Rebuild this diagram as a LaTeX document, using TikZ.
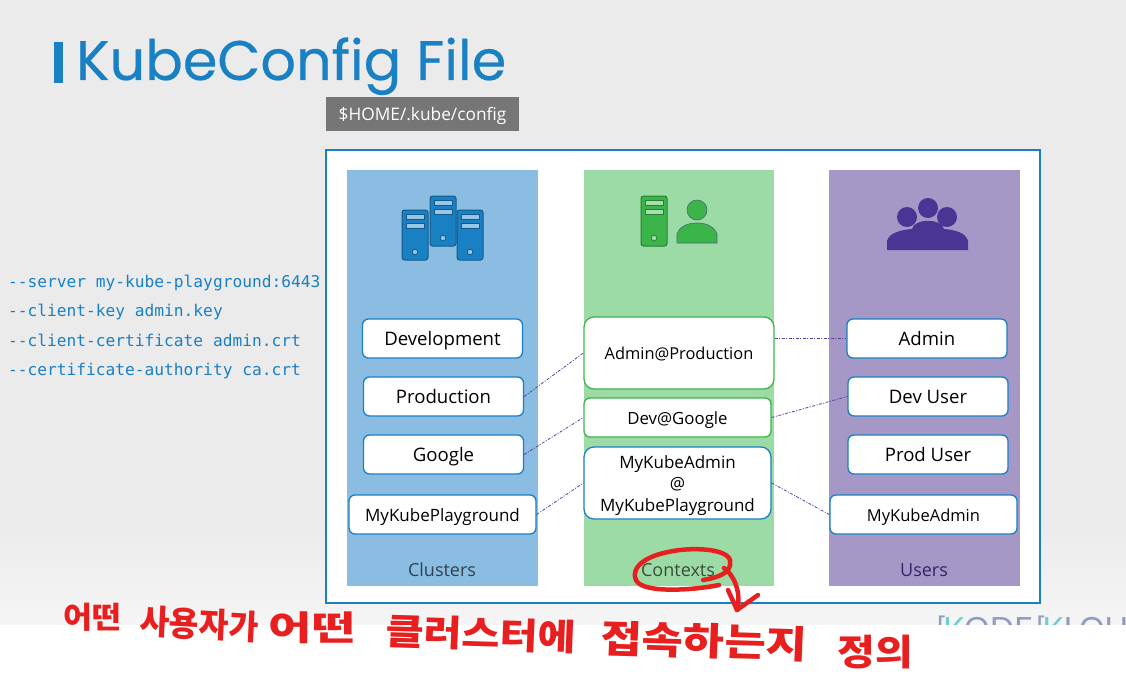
\documentclass[tikz,border=0pt]{standalone}
\usepackage{fontspec}
\setmainfont{Open Sans}
\newfontfamily\titlefont[FakeBold=0.4]{Poppins}
\newfontfamily\codefont{DejaVu Sans Mono}
\newfontfamily\logofont{Lato}
\newfontfamily\cjk{Noto Sans CJK KR}
\usepackage{xcolor}
\usetikzlibrary{arrows.meta, positioning, calc}
\definecolor{kubeblue}{HTML}{1A80C4}
\definecolor{bggray}{HTML}{EBEBEB}
\definecolor{bglight}{HTML}{F5F5F5}
\definecolor{clusterfill}{HTML}{8ABDE1}
\definecolor{contextfill}{HTML}{9DDBA6}
\definecolor{userfill}{HTML}{A597C6}
\definecolor{kubegreen}{HTML}{3BB54A}
\definecolor{kubepurple}{HTML}{4A3494}
\definecolor{pathgray}{HTML}{767676}
\definecolor{linkpurple}{HTML}{5A3FA8}
\definecolor{penred}{HTML}{E81F1F}
\definecolor{logoteal}{HTML}{6CCFD0}
\definecolor{logogray}{HTML}{8F9BC0}
\newcommand{\fsz}[1]{\fontsize{#1}{#1}\selectfont}
\tikzset{
    column/.style={minimum width=191pt, minimum height=416pt, inner sep=0pt},
    roundbox/.style={draw=kubeblue, fill=white, rounded corners=6pt, line width=1.3pt, minimum width=160pt, minimum height=39pt, inner sep=0pt, text=black},
    namebox/.style={roundbox, text height=17.5pt, text depth=4pt, font=\fsz{18.6}},
    widebox/.style={namebox, minimum width=187pt, font=\fsz{17}},
    ctxbox/.style={namebox, draw=kubegreen, minimum width=187pt, font=\fsz{16.4}},
    link/.style={linkpurple, line width=0.8pt, dash pattern=on 3pt off 1.5pt on 1pt off 1.5pt},
    codeline/.style={anchor=west, inner sep=0pt, text=kubeblue, text height=14pt, text depth=3pt, font=\codefont\fsz{16.2}},
    penword/.style={text=penred, inner sep=0pt, transform shape, font=\cjk\bfseries\fsz{#1}},
    penstroke/.style={penred, line width=4.5pt, line cap=round, line join=round},
    servericon/.pic={
        \draw[draw=#1!70!black, fill=#1, line width=1pt, rounded corners=2.5pt] (0,0) rectangle (26,50);
        \draw[draw=#1!70!black, fill=white!55!#1, line width=1pt] (4,4.5) rectangle (22,9.5);
        \draw[draw=#1!70!black, fill=white!55!#1, line width=1pt] (4,13) rectangle (22,18);
        \draw[draw=#1!70!black, fill=white!55!#1, line width=0.8pt] (13,42) circle (2.8pt);
    }
}
\begin{document}
\begin{tikzpicture}[x=1pt, y=-1pt]
    \useasboundingbox (0,0) rectangle (1126,674);
    \fill[bggray] (0,0) rectangle (1126,520);
    \shade[top color=bggray, bottom color=bglight] (0,520) rectangle (1126,625);

    \node[anchor=west, inner sep=0pt, text=logogray, font=\logofont\fsz{32}] (logo) at (936,631) {[\kern-3pt\textcolor{logoteal}{K}ODE\kern3pt[\kern-3pt\textcolor{logoteal}{K}LOUD};
    \fill[white] (0,625) rectangle (1126,674);

    \fill[kubeblue] (54,42) rectangle (63,83);
    \node[anchor=base west, inner sep=0pt, text=kubeblue, font=\titlefont\fsz{55.7}] (title) at (76,80) {KubeConfig File};
    \node[fill=pathgray, text=white, minimum width=193pt, minimum height=34pt, inner sep=0pt, text height=17pt, text depth=4pt, font=\fsz{17.3}] (pathbox) at (422.5,114) {\$HOME/.kube/config};

    \node[codeline] (server) at (8,282) {-{}-server my-kube-playground:6443};
    \node[codeline] (clientkey) at (8,311) {-{}-client-key admin.key};
    \node[codeline] (clientcert) at (8,341) {-{}-client-certificate admin.crt};
    \node[codeline] (caauth) at (8,370) {-{}-certificate-authority ca.crt};

    \node[draw=kubeblue, fill=white, line width=1.2pt, minimum width=714pt, minimum height=453pt, inner sep=0pt] (configbox) at (683,376.5) {};
    \node[column, fill=clusterfill] (clusters) at (442.5,378) {};
    \node[column, minimum width=190pt, fill=contextfill] (contexts) at (679,378) {};
    \node[column, fill=userfill] (users) at (924.5,378) {};

    \pic at (402,210) {servericon=kubeblue};
    \pic at (457,210) {servericon=kubeblue};
    \pic at (430,196) {servericon=kubeblue};
    \pic at (641,196) {servericon=kubegreen};
    \fill[kubegreen, draw=kubepurple!60!kubegreen, line width=0.6pt] (697,210) circle (10pt);
    \fill[kubegreen, draw=kubepurple!60!kubegreen, line width=0.6pt] (677,243) -- (677,234) .. controls (680,226) and (688,223) .. (697,223) .. controls (706,223) and (714,226) .. (717,234) -- (717,243) -- cycle;
    \fill[kubepurple] (907,217) circle (10pt) (947,217) circle (10pt) (928,208) circle (10pt);
    \fill[kubepurple] (887,250) -- (887,241) .. controls (889,233) and (900,230) .. (912,229) .. controls (914,218) and (942,218) .. (944,229) .. controls (956,230) and (966,233) .. (968,241) -- (968,250) -- cycle;

    \node[namebox] (development) at (442.5,338.5) {Development};
    \node[namebox] (production) at (443.5,396.5) {Production};
    \node[namebox] (google) at (443.5,454.5) {Google};
    \node[widebox] (playground) at (442.5,514.5) {MyKubePlayground};

    \node[ctxbox, minimum width=190pt, minimum height=72pt, rounded corners=10pt] (adminprod) at (679,353) {Admin@Production};
    \node[ctxbox, font=\fsz{16.8}] (devgoogle) at (677.5,417.5) {Dev@Google};
    \node[roundbox, minimum width=187pt, minimum height=72pt, rounded corners=10pt, align=center, font=\fsz{17}] (adminplay) at (677.5,483) {\rule{0pt}{18pt}MyKubeAdmin\\[4.5pt]@\\[4.5pt]MyKubePlayground};

    \node[namebox] (admin) at (927,338.5) {Admin};
    \node[namebox] (devuser) at (928,396.5) {Dev User};
    \node[namebox] (produser) at (928,454.5) {Prod User};
    \node[widebox, font=\fsz{16.5}] (kubeadmin) at (923.5,514.5) {MyKubeAdmin};

    \draw[link] (production.east) -- (adminprod.west);
    \draw[link] (google.east) -- (devgoogle.west);
    \draw[link] (playground.east) -- (adminplay.west);
    \draw[link] (adminprod.east |- admin.west) -- (admin.west);
    \draw[link] (devgoogle.east) -- (devuser.west);
    \draw[link] (adminplay.east) -- (kubeadmin.west);

    \node[text=clusterfill!35!black, font=\fsz{18}] (clusterslabel) at (442,570) {Clusters};
    \node[text=contextfill!35!black, font=\fsz{18}] (contextslabel) at (678,570) {Contexts};
    \node[text=kubepurple!70!black, font=\fsz{18}] (userslabel) at (924,570) {Users};

    \draw[penstroke] (703,580) .. controls (715,578) and (733,574) .. (730,560) .. controls (726,548) and (690,547) .. (668,552) .. controls (648,556) and (630,566) .. (636,580) .. controls (642,594) and (695,590) .. (719,585);
    \draw[penstroke] (724,568) .. controls (733,574) and (742,592) .. (737,610);
    \draw[penstroke] (728,590) -- (737,610) -- (758,595);

    \node[penword=30, xscale=1.05] (word1) at (92,617) {어떤};
    \node[penword=34, xscale=0.95, rotate=-3] (word2) at (199,624) {사용자가};
    \node[penword=34, xscale=1.39] (word3) at (312,628) {어떤};
    \node[penword=36, xscale=1.15, rotate=-2] (word4) at (481,634) {클러스터에};
    \node[penword=38, xscale=1.18, rotate=-2] (word5) at (704,641) {접속하는지};
    \node[penword=36, xscale=1.14] (word6) at (875,652) {정의};
\end{tikzpicture}
\end{document}
